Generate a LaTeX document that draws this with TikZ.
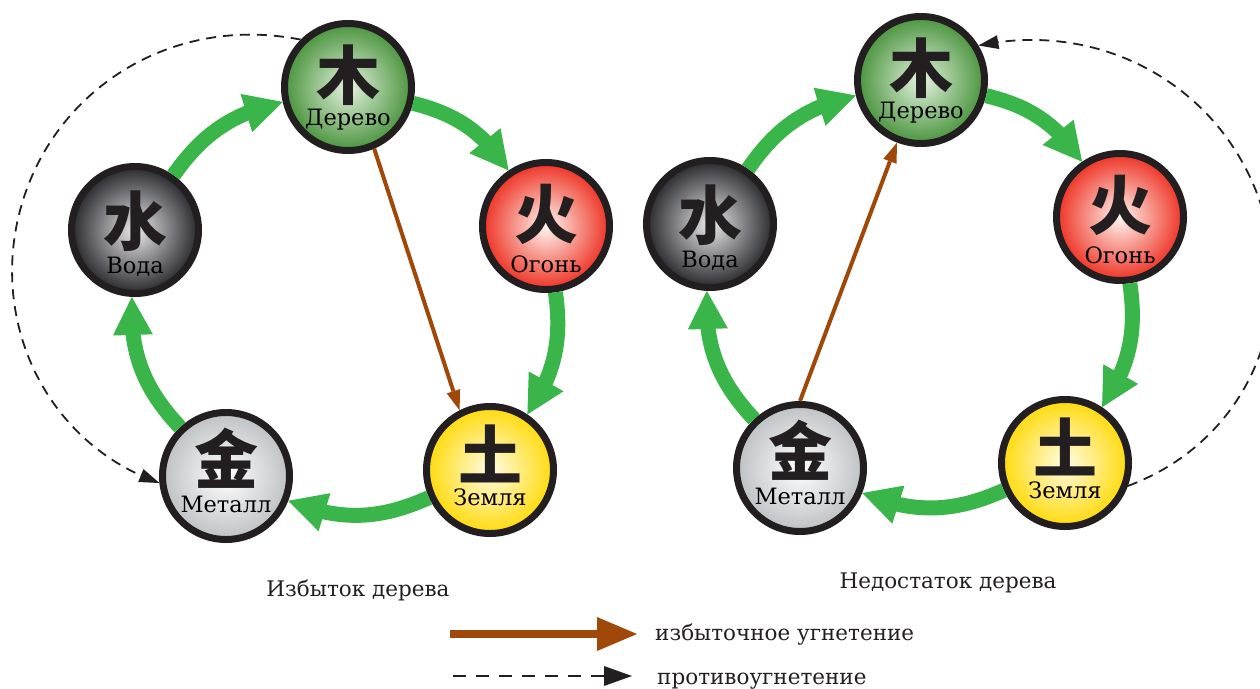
\documentclass[tikz,border=0pt]{standalone}
\usepackage{fontspec}
\setmainfont{DejaVu Serif}
\newfontfamily\cjk{Noto Sans CJK SC}
\usetikzlibrary{arrows.meta,bending}
\definecolor{bordc}{RGB}{35,31,32}
\definecolor{gr}{RGB}{57,181,74}
\definecolor{brn}{RGB}{160,72,10}
\definecolor{woodo}{RGB}{74,148,62}
\definecolor{woodi}{RGB}{228,242,222}
\definecolor{fireo}{RGB}{238,50,36}
\definecolor{firei}{RGB}{255,246,240}
\definecolor{eartho}{RGB}{255,218,10}
\definecolor{earthi}{RGB}{255,252,232}
\definecolor{metalo}{RGB}{190,193,196}
\definecolor{metali}{RGB}{255,255,255}
\definecolor{watero}{RGB}{40,40,45}
\definecolor{wateri}{RGB}{235,235,237}
\definecolor{dashc}{RGB}{35,31,32}
\begin{document}
\begin{tikzpicture}[x=1pt,y=-1pt,
  elem/.style={circle, draw=bordc, line width=7pt, minimum size=127pt, inner sep=0pt, shading=radial},
  wood/.style={elem, inner color=woodi, outer color=woodo},
  fire/.style={elem, inner color=firei, outer color=fireo},
  earth/.style={elem, inner color=earthi, outer color=eartho},
  metal/.style={elem, inner color=metali, outer color=metalo},
  water/.style={elem, inner color=wateri, outer color=watero},
  ch/.style={inner sep=0pt, font=\fontsize{64pt}{66pt}\selectfont\cjk\bfseries, text=bordc},
  lab/.style={inner sep=0pt, anchor=base, font=\fontsize{22.5pt}{26pt}\selectfont},
  txt/.style={inner sep=0pt, anchor=base, font=\fontsize{21.5pt}{25pt}\selectfont, text=bordc},
  garrow/.style={draw=gr, line width=15pt, -{Triangle[length=38pt,width=40pt,line width=0pt,flex]}},
  barrow/.style={draw=brn, line width=4pt, -{Triangle[length=20pt,width=14pt,line width=0pt]}},
  darrow/.style={draw=dashc, line width=1.8pt, dash pattern=on 10pt off 7pt, -{Triangle[length=20pt,width=14pt,line width=0pt]}},
  legb/.style={draw=brn, line width=8pt, -{Triangle[length=40pt,width=34pt,line width=0pt]}},
  legd/.style={draw=dashc, line width=2pt, dash pattern=on 13pt off 10pt, -{Triangle[length=28pt,width=20pt,line width=0pt]}}
]
\useasboundingbox (0,0) rectangle (1260,688);

% ---------- left diagram ----------
\node[wood]  (Lwood)  at (348,87)  {};
\node[fire]  (Lfire)  at (546,226) {};
\node[earth] (Learth) at (490,470) {};
\node[metal] (Lmetal) at (226,476) {};
\node[water] (Lwater) at (135,230) {};

\draw[garrow] (Lwood)  to[bend left=21] (Lfire);
\draw[garrow] (Lfire)  to[bend left=21] (Learth);
\draw[garrow] (Learth) to[bend left=23] (Lmetal);
\draw[garrow] (Lmetal) to[bend left=23] (Lwater);
\draw[garrow] (Lwater) to[bend left=21] (Lwood);

\draw[barrow] (Lwood.-67) -- (Learth.117);
\draw[darrow] (Lwood.135) .. controls (174.5,14.6) and (57.8,86.1) .. (22.5,201.8)
  .. controls (-12.8,317.5) and (43.8,442.1) .. (Lmetal.186);

\node[ch] (Lwoodc)  at ([yshift=12pt]Lwood.center)  {木};
\node[ch] (Lfirec)  at ([yshift=12pt]Lfire.center)  {火};
\node[ch] (Learthc) at ([yshift=16pt]Learth.center) {土};
\node[ch] (Lmetalc) at ([yshift=18pt]Lmetal.center) {金};
\node[ch] (Lwaterc) at ([yshift=9pt]Lwater.center)  {水};
\node[lab] (Lwoodt)  at ([yshift=-38pt]Lwood.center)  {Дерево};
\node[lab] (Lfiret)  at ([yshift=-46pt]Lfire.center)  {Огонь};
\node[lab] (Leartht) at ([yshift=-35pt]Learth.center) {Земля};
\node[lab] (Lmetalt) at ([yshift=-36pt]Lmetal.center) {Металл};
\node[lab] (Lwatert) at ([yshift=-43pt]Lwater.center) {Вода};

% ---------- right diagram ----------
\node[wood]  (Rwood)  at (921,80)  {};
\node[fire]  (Rfire)  at (1120,217) {};
\node[earth] (Rearth) at (1065,463) {};
\node[metal] (Rmetal) at (800,468) {};
\node[water] (Rwater) at (710,224) {};

\draw[garrow] (Rwood)  to[bend left=21] (Rfire);
\draw[garrow] (Rfire)  to[bend left=21] (Rearth);
\draw[garrow] (Rearth) to[bend left=23] (Rmetal);
\draw[garrow] (Rmetal) to[bend left=23] (Rwater);
\draw[garrow] (Rwater) to[bend left=21] (Rwood);

\draw[barrow] (Rmetal.90) -- (Rwood.-111);
\draw[darrow] (Rearth.-20) .. controls (1248.4,440.8) and (1299.1,315.2) .. (1259.8,201.2)
  .. controls (1220.5,87.2) and (1103.2,19.5) .. (Rwood.31);

\node[ch] (Rwoodc)  at ([yshift=12pt]Rwood.center)  {木};
\node[ch] (Rfirec)  at ([yshift=12pt]Rfire.center)  {火};
\node[ch] (Rearthc) at ([yshift=16pt]Rearth.center) {土};
\node[ch] (Rmetalc) at ([yshift=18pt]Rmetal.center) {金};
\node[ch] (Rwaterc) at ([yshift=9pt]Rwater.center)  {水};
\node[lab] (Rwoodt)  at ([yshift=-38pt]Rwood.center)  {Дерево};
\node[lab] (Rfiret)  at ([yshift=-46pt]Rfire.center)  {Огонь};
\node[lab] (Reartht) at ([yshift=-35pt]Rearth.center) {Земля};
\node[lab] (Rmetalt) at ([yshift=-36pt]Rmetal.center) {Металл};
\node[lab] (Rwatert) at ([yshift=-43pt]Rwater.center) {Вода};

% ---------- captions ----------
\node[txt] (cap1) at (358,596) {Избыток дерева};
\node[txt] (cap2) at (948,588) {Недостаток дерева};

% ---------- legend ----------
\coordinate (la1) at (450,634);
\coordinate (la2) at (637,634);
\draw[legb] (la1) -- (la2);
\node[txt, anchor=base west] (lt1) at (655,640) {избыточное угнетение};
\coordinate (lb1) at (453,676);
\coordinate (lb2) at (632,676);
\draw[legd] (lb1) -- (lb2);
\node[txt, anchor=base west] (lt2) at (657,684) {противоугнетение};
\end{tikzpicture}
\end{document}
